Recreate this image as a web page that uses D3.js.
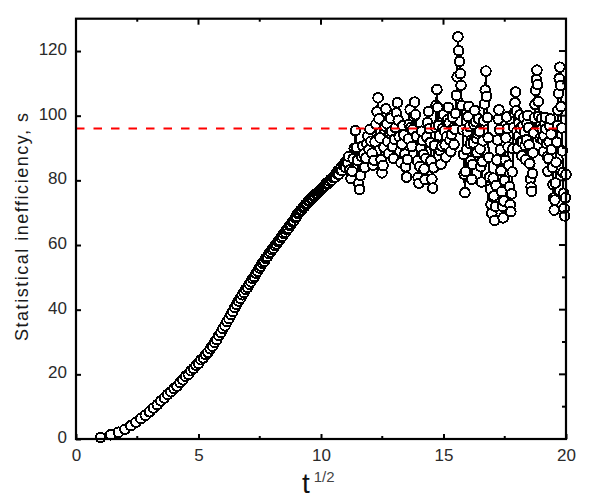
<!DOCTYPE html>
<html>
<head>
<meta charset="utf-8">
<script src="https://cdn.jsdelivr.net/npm/d3@7"></script>
<style>
  body { margin: 0; background: #fff; }
  svg { display: block; }
</style>
</head>
<body>
<div id="chart"></div>
<script>
// statistical inefficiency s, one value per block length t = 1 .. 400
const inefficiency = [
  0.5, 1.3, 2.1, 3.0, 4.1, 5.2, 6.3, 7.3, 8.4, 9.6,
  10.6, 11.8, 12.7, 13.8, 14.6, 15.6, 16.3, 17.5, 18.3, 19.4,
  20.0, 21.1, 21.8, 22.8, 23.4, 24.5, 25.1, 26.1, 26.8, 27.9,
  28.7, 29.9, 30.7, 32.0, 32.9, 34.1, 35.0, 36.3, 37.2, 38.5,
  39.4, 40.7, 41.6, 42.7, 43.5, 44.6, 45.3, 46.3, 46.9, 47.9,
  48.6, 49.6, 50.2, 51.3, 51.9, 52.9, 53.5, 54.4, 54.9, 55.9,
  56.4, 57.3, 57.8, 58.6, 59.0, 59.8, 60.3, 61.1, 61.5, 62.3,
  62.7, 63.5, 63.9, 64.7, 65.1, 66.0, 66.3, 67.1, 67.5, 68.4,
  68.8, 69.7, 70.0, 70.7, 70.9, 71.6, 71.9, 72.6, 72.9, 73.6,
  73.7, 74.3, 74.5, 75.1, 75.3, 75.8, 76.0, 76.5, 76.7, 77.2,
  77.6, 78.0, 78.3, 78.9, 79.2, 79.0, 79.8, 80.3, 80.1, 80.9,
  81.3, 81.0, 82.2, 82.8, 81.9, 83.4, 84.1, 83.0, 84.6, 85.2,
  84.0, 86.1, 85.3, 87.4, 83.2, 80.5, 82.8, 86.7, 89.9, 95.4,
  90.1, 86.2, 79.0, 77.2, 81.5, 87.3, 90.6, 88.2, 84.0, 86.9,
  91.3, 93.7, 89.5, 95.8, 92.1, 88.4, 84.7, 86.2, 91.9, 97.4,
  101.2, 105.5, 99.0, 93.1, 86.4, 82.3, 84.6, 90.2, 96.8, 102.1,
  97.5, 92.0, 88.3, 94.6, 99.2, 95.1, 90.4, 86.8, 92.7, 96.3,
  100.8, 104.0, 98.6, 93.5, 89.0, 85.4, 91.2, 96.9, 94.0, 88.1,
  84.2, 81.0, 86.5, 92.8, 97.3, 101.9, 96.4, 90.5, 95.7, 99.8,
  104.2, 100.3, 93.6, 86.0, 80.9, 79.1, 84.3, 90.0, 95.2, 92.3,
  88.0, 83.5, 80.2, 86.8, 93.4, 97.9, 101.3, 96.0, 91.7, 86.1,
  80.4, 77.6, 83.9, 90.8, 96.5, 103.2, 108.1, 102.5, 97.0, 93.8,
  89.2, 85.0, 90.6, 96.1, 100.4, 95.3, 91.0, 87.2, 93.5, 98.7,
  102.6, 97.8, 92.4, 88.9, 94.2, 99.5, 96.2, 91.1, 95.8, 100.7,
  106.3, 112.0, 124.4, 120.1, 116.8, 113.0, 109.4, 103.1, 95.6, 88.0,
  81.9, 76.2, 82.7, 89.5, 95.0, 99.7, 102.9, 96.6, 91.3, 86.0,
  80.3, 84.9, 91.6, 97.2, 101.6, 98.1, 93.0, 88.6, 94.4, 99.0,
  95.1, 89.7, 84.2, 79.5, 85.8, 92.2, 98.4, 103.6, 107.9, 113.8,
  106.0, 99.4, 93.2, 87.1, 81.0, 77.3, 72.6, 69.8, 74.9, 80.7,
  75.2, 67.6, 71.9, 78.4, 86.3, 92.5, 98.9, 101.8, 95.7, 89.4,
  83.0, 76.5, 72.0, 68.4, 73.6, 79.9, 86.2, 93.1, 99.6, 96.0,
  90.3, 84.7, 78.1, 72.5, 70.3, 75.8, 82.6, 89.8, 96.4, 100.9,
  104.0, 107.3, 101.5, 95.2, 89.9, 93.7, 97.8, 100.2, 96.1, 92.0,
  87.6, 91.8, 96.9, 99.4, 95.0, 90.7, 86.4, 92.5, 97.6, 100.1,
  96.3, 91.0, 85.2, 80.4, 77.9, 76.6, 82.1, 88.5, 94.7, 99.3,
  103.5, 107.8, 111.2, 114.1, 109.6, 104.4, 99.8, 96.5, 93.0, 97.4,
  99.1, 96.0, 92.6, 88.9, 93.8, 97.7, 99.5, 95.9, 91.4, 87.3,
  82.8, 86.7, 91.9, 96.8, 99.0, 94.3, 89.6, 84.0, 78.7, 74.5,
  70.8, 73.9, 79.2, 85.6, 91.8, 97.0, 101.7, 106.9, 111.5, 115.0,
  109.3, 102.8, 96.2, 89.1, 82.4, 76.0, 71.3, 69.0, 74.6, 81.8
]
const plateauValue = 96

const xTicks = [0, 5, 10, 15, 20]
const xMinorTicks = [2.5, 7.5, 12.5, 17.5]
const yTicks = [0, 20, 40, 60, 80, 100, 120]
const yMinorTicks = [10, 30, 50, 70, 90, 110]

const width = 598, height = 504
const margin = {top: 18.7, right: 32, bottom: 65, left: 76}

const svg = d3.select("#chart").append("svg")
  .attr("width", width)
  .attr("height", height)

const x = d3.scaleLinear()
  .domain([0, 20])
  .range([margin.left, width - margin.right])
const y = d3.scaleLinear()
  .domain([0, 130])
  .range([height - margin.bottom, margin.top])

const rows = inefficiency.map((s, i) => ({rootT: Math.sqrt(i + 1), s: s}))

// data: connecting line under the symbols, drawn aliased like the original
svg.append("path")
  .datum(rows)
  .attr("fill", "none")
  .attr("stroke", "#000")
  .attr("stroke-width", 2)
  .attr("shape-rendering", "crispEdges")
  .attr("d", d3.line().x(d => x(d.rootT)).y(d => y(d.s)))

svg.append("g")
  .attr("shape-rendering", "crispEdges")
  .selectAll("circle")
  .data(rows)
  .join("circle")
    .attr("cx", d => x(d.rootT))
    .attr("cy", d => y(d.s))
    .attr("r", 4.8)
    .attr("fill", "#fff")
    .attr("stroke", "#000")
    .attr("stroke-width", 2)

// plateau estimate
svg.append("line")
  .attr("x1", x(0))
  .attr("x2", x(20))
  .attr("y1", y(plateauValue))
  .attr("y2", y(plateauValue))
  .attr("stroke", "#ff0000")
  .attr("stroke-width", 2)
  .attr("stroke-dasharray", "8.5,9")

// axes, ticks pointing inward
const tickFont = g => g
  .attr("font-family", "'Liberation Sans', Arial, sans-serif")
  .attr("font-size", 17)
  .attr("fill", "#2a2a2a")

const bottomAxis = svg.append("g")
  .attr("transform", `translate(0,${y(0)})`)
  .call(d3.axisBottom(x).tickValues(xTicks).tickSizeInner(-5).tickSizeOuter(0).tickPadding(10))
bottomAxis.select(".domain").remove()
bottomAxis.selectAll("line").attr("stroke-width", 2)
bottomAxis.selectAll("text").call(tickFont).attr("dy", "0.71em")
bottomAxis.selectAll(".minor").data(xMinorTicks).join("line")
  .attr("x1", d => x(d)).attr("x2", d => x(d))
  .attr("y1", 0).attr("y2", -3)
  .attr("stroke", "#000").attr("stroke-width", 2)

const leftAxis = svg.append("g")
  .attr("transform", `translate(${x(0)},0)`)
  .call(d3.axisLeft(y).tickValues(yTicks).tickSizeInner(-5).tickSizeOuter(0).tickPadding(10))
leftAxis.select(".domain").remove()
leftAxis.selectAll("line").attr("stroke-width", 2)
leftAxis.selectAll("text").call(tickFont).attr("x", -9).attr("dy", "3.5")

const topAxis = svg.append("g")
  .attr("transform", `translate(0,${y(130)})`)
topAxis.selectAll(".major").data(xTicks.slice(1, -1)).join("line")
  .attr("x1", d => x(d)).attr("x2", d => x(d))
  .attr("y1", 0).attr("y2", 6)
  .attr("stroke", "#000").attr("stroke-width", 2)
topAxis.selectAll(".minor").data(xMinorTicks).join("line")
  .attr("x1", d => x(d)).attr("x2", d => x(d))
  .attr("y1", 0).attr("y2", 3)
  .attr("stroke", "#000").attr("stroke-width", 2)

const rightAxis = svg.append("g")
  .attr("transform", `translate(${x(20)},0)`)
rightAxis.selectAll(".major").data(yTicks.slice(1)).join("line")
  .attr("y1", d => y(d)).attr("y2", d => y(d))
  .attr("x1", 0).attr("x2", -7)
  .attr("stroke", "#000").attr("stroke-width", 2)
rightAxis.selectAll(".minor").data(yMinorTicks).join("line")
  .attr("y1", d => y(d)).attr("y2", d => y(d))
  .attr("x1", 0).attr("x2", -4)
  .attr("stroke", "#000").attr("stroke-width", 2)

// frame
svg.append("rect")
  .attr("x", x(0))
  .attr("y", y(130))
  .attr("width", x(20) - x(0))
  .attr("height", y(0) - y(130))
  .attr("fill", "none")
  .attr("stroke", "#000")
  .attr("stroke-width", 2.2)

// axis titles
svg.append("text")
  .attr("transform", `translate(27.5,${(341 + 113) / 2}) rotate(-90)`)
  .attr("text-anchor", "middle")
  .attr("font-family", "'Liberation Sans', Arial, sans-serif")
  .attr("font-size", 18)
  .attr("fill", "#1a1a1a")
  .attr("textLength", 228)
  .attr("lengthAdjust", "spacing")
  .text("Statistical inefficiency, s")

const xTitle = svg.append("text")
  .attr("x", 302)
  .attr("y", 493)
  .attr("font-family", "'Liberation Sans', Arial, sans-serif")
  .attr("fill", "#111")
xTitle.append("tspan")
  .attr("font-size", 28)
  .text("t")
xTitle.append("tspan")
  .attr("font-size", 15)
  .attr("fill", "#444")
  .attr("dx", 4)
  .attr("dy", -11)
  .text("1/2")
</script>
</body>
</html>
